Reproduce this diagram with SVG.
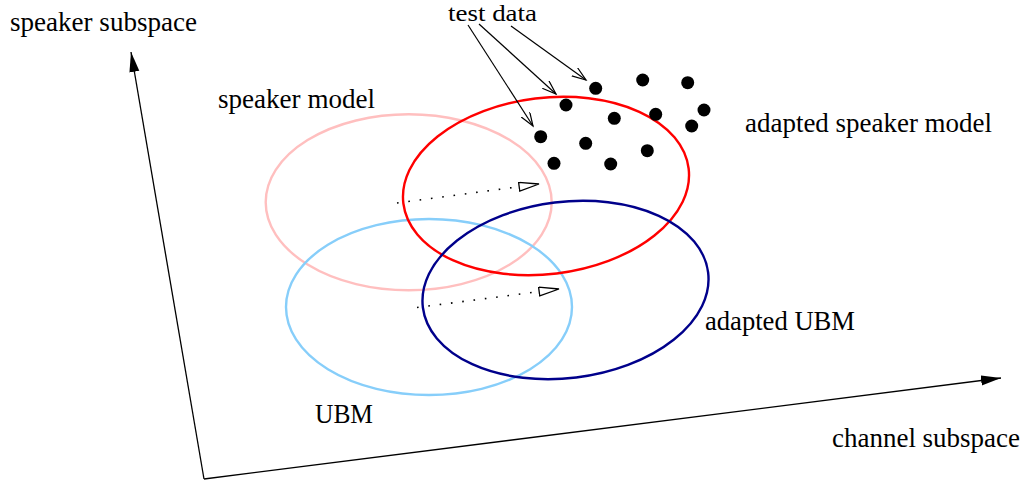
<svg xmlns="http://www.w3.org/2000/svg" width="1025" height="484" viewBox="0 0 1025 484">
<style>
text{font-family:"Liberation Serif","Times New Roman",serif;font-size:27px;fill:#000}
.ell{fill:none;stroke-width:2.4}
.axis{stroke:#000;stroke-width:1.3;fill:none}
.ptr{stroke:#000;stroke-width:1.2;fill:none}
.dot{stroke:#000;stroke-width:1.6;fill:none;stroke-dasharray:1.6 9.8}
.pt{fill:#000}
</style>
<defs>
<marker id="solid" markerUnits="userSpaceOnUse" markerWidth="22" markerHeight="12" refX="20" refY="5" orient="auto">
<path d="M0,0 L20,5 L0,10 z" fill="#000"/>
</marker>
<marker id="open" markerUnits="userSpaceOnUse" markerWidth="16" markerHeight="12" refX="14" refY="5" orient="auto">
<path d="M0,0 L14,5 L0,10" fill="none" stroke="#000" stroke-width="1.2"/>
</marker>
<marker id="tri" markerUnits="userSpaceOnUse" markerWidth="24" markerHeight="12" refX="21" refY="5" orient="auto">
<path d="M1,0.6 L21,5 L1,9.4 z" fill="#fff" stroke="#000" stroke-width="1.3"/>
</marker>
</defs>

<g id="axes">
<path class="axis" d="M204,479 L131,52" marker-end="url(#solid)"/>
<path class="axis" d="M204,479 L1001,378" marker-end="url(#solid)"/>
</g>

<g id="speaker-model">
<ellipse class="ell" cx="408.7" cy="202.3" rx="143" ry="88" stroke="#ffbfbf"/>
<text x="218" y="108" textLength="157" lengthAdjust="spacingAndGlyphs">speaker model</text>
</g>
<g id="ubm">
<ellipse class="ell" cx="429" cy="307" rx="143" ry="88" stroke="#87cefa"/>
<text x="315" y="423" textLength="58" lengthAdjust="spacingAndGlyphs">UBM</text>
</g>
<g id="adapted-speaker-model">
<ellipse class="ell" cx="0" cy="0" rx="143.7" ry="88.1" stroke="#ff0000" transform="translate(546,186) rotate(-7)"/>
<text x="745" y="132" textLength="247" lengthAdjust="spacingAndGlyphs">adapted speaker model</text>
</g>
<g id="adapted-ubm">
<ellipse class="ell" cx="0" cy="0" rx="143.7" ry="88.1" stroke="#00008b" transform="translate(565.5,290) rotate(-7)"/>
<text x="705" y="330" textLength="150" lengthAdjust="spacingAndGlyphs">adapted UBM</text>
</g>

<g id="test-data">
<text x="448" y="21" style="font-size:24px" textLength="89" lengthAdjust="spacingAndGlyphs">test data</text>
<circle class="pt" cx="595.7" cy="88.3" r="6.5"/>
<circle class="pt" cx="642.7" cy="80" r="6.5"/>
<circle class="pt" cx="687.7" cy="82.7" r="6.5"/>
<circle class="pt" cx="566" cy="105" r="6.5"/>
<circle class="pt" cx="614.3" cy="118.3" r="6.5"/>
<circle class="pt" cx="655.7" cy="114.3" r="6.5"/>
<circle class="pt" cx="704" cy="110" r="6.5"/>
<circle class="pt" cx="691.7" cy="126" r="6.5"/>
<circle class="pt" cx="540.7" cy="136.7" r="6.5"/>
<circle class="pt" cx="585.7" cy="143.3" r="6.5"/>
<circle class="pt" cx="647.3" cy="150.7" r="6.5"/>
<circle class="pt" cx="554" cy="163.3" r="6.5"/>
<circle class="pt" cx="610.7" cy="164" r="6.5"/>
</g>

<g id="axis-labels">
<text x="10" y="31" textLength="187" lengthAdjust="spacingAndGlyphs">speaker subspace</text>
<text x="832" y="447" textLength="188" lengthAdjust="spacingAndGlyphs">channel subspace</text>
</g>

<g id="connectors">
<path class="ptr" d="M468,25 L533,126" marker-end="url(#open)"/>
<path class="ptr" d="M479,24 L556,94" marker-end="url(#open)"/>
<path class="ptr" d="M511,26 L586,80" marker-end="url(#open)"/>
<path class="dot" d="M397,203 L539,184" marker-end="url(#tri)"/>
<path class="dot" d="M417,307.5 L559,289" marker-end="url(#tri)"/>
</g>
</svg>
